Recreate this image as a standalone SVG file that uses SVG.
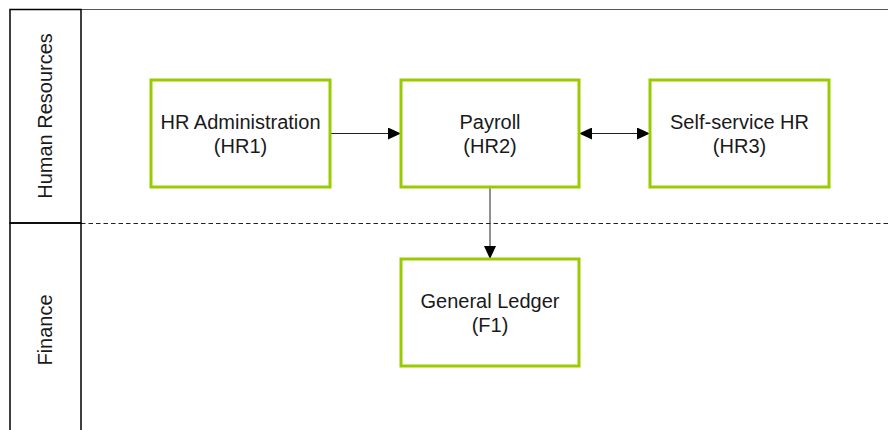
<svg xmlns="http://www.w3.org/2000/svg" width="888" height="430" viewBox="0 0 888 430">
  <style>
    text { font-family: "Liberation Sans", Arial, sans-serif; font-size: 20px; fill: #1a1a1a; }
    .node rect { fill: #ffffff; stroke: #99cc00; stroke-width: 3; }
    .lane { fill: none; stroke: #000000; stroke-width: 1.5; }
    .conn { stroke: #222222; stroke-width: 1; fill: none; }
  </style>
  <defs>
    <marker id="arrow" viewBox="0 0 13 12" refX="13" refY="6" markerWidth="13" markerHeight="12" markerUnits="userSpaceOnUse" orient="auto-start-reverse">
      <path d="M0,0 L13,6 L0,12 Z" fill="#000000"/>
    </marker>
  </defs>
  <rect width="888" height="430" fill="#ffffff"/>

  <!-- swimlanes -->
  <g id="lanes">
    <line x1="81" y1="9.5" x2="888" y2="9.5" stroke="#555555" stroke-width="1"/>
    <line x1="81" y1="223.5" x2="888" y2="223.5" stroke="#222222" stroke-width="1" stroke-dasharray="4.5,3"/>
    <g id="lane-hr">
      <rect class="lane" x="10" y="9.5" width="71" height="213.5"/>
      <text transform="translate(52,116) rotate(-90)" text-anchor="middle">Human Resources</text>
    </g>
    <g id="lane-finance">
      <rect class="lane" x="10" y="223" width="71" height="220"/>
      <text transform="translate(52,330) rotate(-90)" text-anchor="middle">Finance</text>
    </g>
  </g>

  <!-- connectors -->
  <g id="connectors">
    <line class="conn" x1="330" y1="133.5" x2="401" y2="133.5" marker-end="url(#arrow)"/>
    <line class="conn" x1="579" y1="133.5" x2="650" y2="133.5" marker-start="url(#arrow)" marker-end="url(#arrow)"/>
    <line class="conn" x1="490" y1="187" x2="490" y2="259" marker-end="url(#arrow)"/>
  </g>

  <!-- nodes -->
  <g id="hr1" class="node">
    <rect x="151" y="80" width="179" height="107"/>
    <text x="240.5" y="129" text-anchor="middle">HR Administration</text>
    <text x="240.5" y="153" text-anchor="middle">(HR1)</text>
  </g>
  <g id="hr2" class="node">
    <rect x="401" y="80" width="178" height="107"/>
    <text x="490" y="129" text-anchor="middle">Payroll</text>
    <text x="490" y="153" text-anchor="middle">(HR2)</text>
  </g>
  <g id="hr3" class="node">
    <rect x="650" y="80" width="179" height="107"/>
    <text x="739.5" y="129" text-anchor="middle">Self-service HR</text>
    <text x="739.5" y="153" text-anchor="middle">(HR3)</text>
  </g>
  <g id="f1" class="node">
    <rect x="401" y="259" width="178" height="107"/>
    <text x="490" y="308" text-anchor="middle">General Ledger</text>
    <text x="490" y="332" text-anchor="middle">(F1)</text>
  </g>
</svg>
